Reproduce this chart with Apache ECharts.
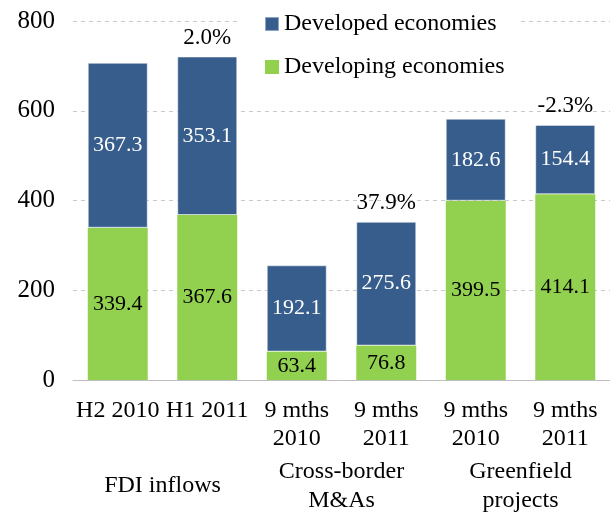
<!DOCTYPE html>
<html>
<head>
<meta charset="utf-8">
<script src="https://cdn.jsdelivr.net/npm/echarts@6/dist/echarts.min.js"></script>
<style>
  html, body { margin: 0; padding: 0; background: #fff; }
  #chart { width: 610px; height: 515px; }
</style>
</head>
<body>
<div id="chart"></div>
<script>
// periods and groups
var periods = ['H2 2010', 'H1 2011', '9 mths\n2010', '9 mths\n2011', '9 mths\n2010', '9 mths\n2011']
var groups = ['FDI inflows', 'Cross-border\nM&As', 'Greenfield\nprojects']

// values (billions)
var developed = [367.3, 353.1, 192.1, 275.6, 182.6, 154.4]
var developing = [339.4, 367.6, 63.4, 76.8, 399.5, 414.1]
var growth = ['', '2.0%', '', '37.9%', '', '-2.3%']

var yTicks = { min: 0, max: 800, interval: 200 }

var serif = 'Liberation Serif, Times New Roman, serif'
var chart = echarts.init(document.getElementById('chart'))

chart.setOption({
  animation: false,
  textStyle: { fontFamily: serif },
  grid: { left: 73, top: 21, width: 546, height: 363 },
  legend: {
    data: ['Developed economies', 'Developing economies'],
    orient: 'vertical',
    left: 240,
    top: 4,
    padding: [8, 14, 8, 24],
    itemGap: 19,
    backgroundColor: '#fff',
    icon: 'rect',
    itemWidth: 14,
    itemHeight: 14,
    textStyle: { fontFamily: serif, fontSize: 24, color: '#000' }
  },
  xAxis: [
    {
      type: 'category',
      data: periods,
      axisLine: { lineStyle: { color: '#bfbfbf' } },
      axisTick: { lineStyle: { color: '#bfbfbf' }, length: 6 },
      axisLabel: {
        fontFamily: serif, fontSize: 24, color: '#000',
        margin: 17, lineHeight: 28, interval: 0
      }
    },
    {
      type: 'category',
      data: groups,
      position: 'bottom',
      offset: 96,
      axisLine: { show: false },
      axisTick: { show: false },
      axisLabel: {
        fontFamily: serif, fontSize: 24, color: '#000',
        margin: 10, lineHeight: 29, verticalAlign: 'middle', interval: 0
      }
    }
  ],
  yAxis: {
    type: 'value',
    min: yTicks.min,
    max: yTicks.max,
    interval: yTicks.interval,
    axisLine: { show: false },
    axisTick: { show: false },
    axisLabel: { fontFamily: serif, fontSize: 25, color: '#000', margin: 18 },
    splitLine: { lineStyle: { color: '#c8c8c8', type: [4, 4] } }
  },
  series: [
    {
      name: 'Developing economies',
      type: 'bar',
      stack: 'total',
      data: developing,
      barCategoryGap: '33%',
      itemStyle: { color: '#92d050' },
      label: {
        show: true, position: 'inside', color: '#000',
        fontFamily: serif, fontSize: 22,
        formatter: function (p) { return p.value.toFixed(1) }
      }
    },
    {
      name: 'Developed economies',
      type: 'bar',
      stack: 'total',
      data: developed,
      itemStyle: { color: '#375d8c', borderColor: 'rgba(255,255,255,0.45)', borderWidth: 1 },
      label: {
        show: true, position: 'inside', color: '#fff',
        fontFamily: serif, fontSize: 22,
        formatter: function (p) { return p.value.toFixed(1) }
      }
    },
    {
      name: 'growth',
      type: 'bar',
      stack: 'total',
      data: growth.map(function (g) { return { value: 0, label: { show: g !== '' } } }),
      itemStyle: { color: 'transparent' },
      label: {
        position: 'top', distance: 7, color: '#000',
        fontFamily: serif, fontSize: 23,
        formatter: function (p) { return growth[p.dataIndex] }
      },
      tooltip: { show: false }
    }
  ]
})
</script>
</body>
</html>
